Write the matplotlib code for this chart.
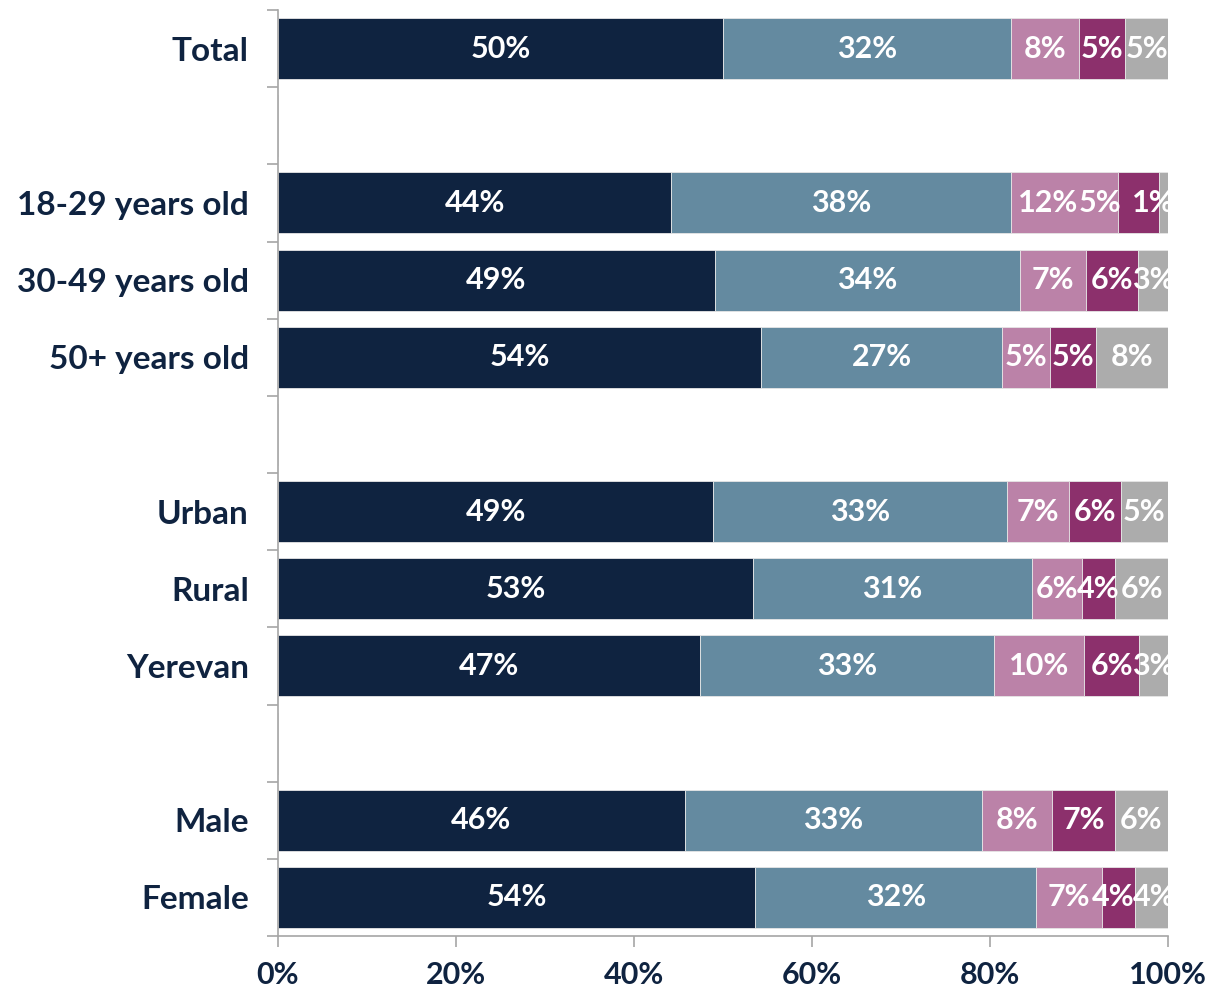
import numpy as np
import matplotlib.pyplot as plt
from matplotlib.ticker import FixedLocator

plt.rcParams['font.family'] = ['Lato', 'DejaVu Sans']

groups = ['Total', '', '18-29 years old', '30-49 years old', '50+ years old', '',
          'Urban', 'Rural', 'Yerevan', '', 'Male', 'Female']

# shares per group (blank rows are None)
s1 = [50.0, None, 44.2, 49.1, 54.3, None, 48.9, 53.4, 47.4, None, 45.7, 53.6]
s2 = [32.4, None, 38.2, 34.3, 27.1, None, 33.0, 31.3, 33.1, None, 33.4, 31.6]
s3 = [7.6, None, 12.0, 7.4, 5.4, None, 7.0, 5.6, 10.1, None, 7.9, 7.4]
s4 = [5.2, None, 4.6, 5.8, 5.1, None, 5.8, 3.8, 6.2, None, 7.0, 3.7]
s5 = [4.8, None, 1.0, 3.4, 8.1, None, 5.3, 5.9, 3.2, None, 6.0, 3.7]

series = [s1, s2, s3, s4, s5]
colors = ['#0f2340', '#648aa0', '#bb82a8', '#8c306c', '#acacac']

# labels that were nudged in the original to avoid overlap (row, series) -> shift
nudge = {(2, 2): -1.9, (2, 3): -4.3, (2, 4): -1.1, (11, 3): -0.6, (11, 4): 0.3}

navy = '#0f2340'

fig = plt.figure(figsize=(12.17, 9.9), dpi=100)
ax = fig.add_axes([0.2284, 0.0545, 0.7313, 0.9354])

y = np.arange(len(groups))
left = np.zeros(len(groups))
for k, (vals, col) in enumerate(zip(series, colors)):
    v = np.array([0 if x is None else x for x in vals], dtype=float)
    ax.barh(y, v, left=left, height=0.79, color=col,
            edgecolor='#e6e6e6', linewidth=0.6)
    for yi, x in enumerate(vals):
        if x is None:
            continue
        xc = left[yi] + x / 2 + nudge.get((yi, k), 0)
        ax.text(xc, yi, f'{x:.0f}%', ha='center', va='center',
                color='white', fontsize=22, fontweight='bold', clip_on=True)
    left += v

ax.set_xlim(0, 100)
ax.set_ylim(len(groups) - 0.5, -0.5)

ax.set_xticks(np.arange(0, 101, 20))
ax.set_xticklabels([f'{t}%' for t in range(0, 101, 20)])
ax.set_yticks(y)
ax.set_yticklabels(groups)
ax.yaxis.set_minor_locator(FixedLocator(np.arange(-0.5, len(groups), 1)))

for s in ['top', 'right']:
    ax.spines[s].set_visible(False)
for s in ['left', 'bottom']:
    ax.spines[s].set_color('#a6a6a6')
    ax.spines[s].set_linewidth(1.2)

ax.tick_params(axis='y', which='major', length=0, pad=21)
ax.tick_params(axis='y', which='minor', length=8, color='#a6a6a6', width=1.2)
ax.tick_params(axis='x', length=8, color='#a6a6a6', width=1.2, pad=10)
for lab in ax.get_yticklabels():
    lab.set_fontsize(24)
for lab in ax.get_xticklabels():
    lab.set_fontsize(22)
for lab in ax.get_yticklabels() + ax.get_xticklabels():
    lab.set_fontweight('bold')
    lab.set_color(navy)

fig.savefig('out.png', dpi=100)
